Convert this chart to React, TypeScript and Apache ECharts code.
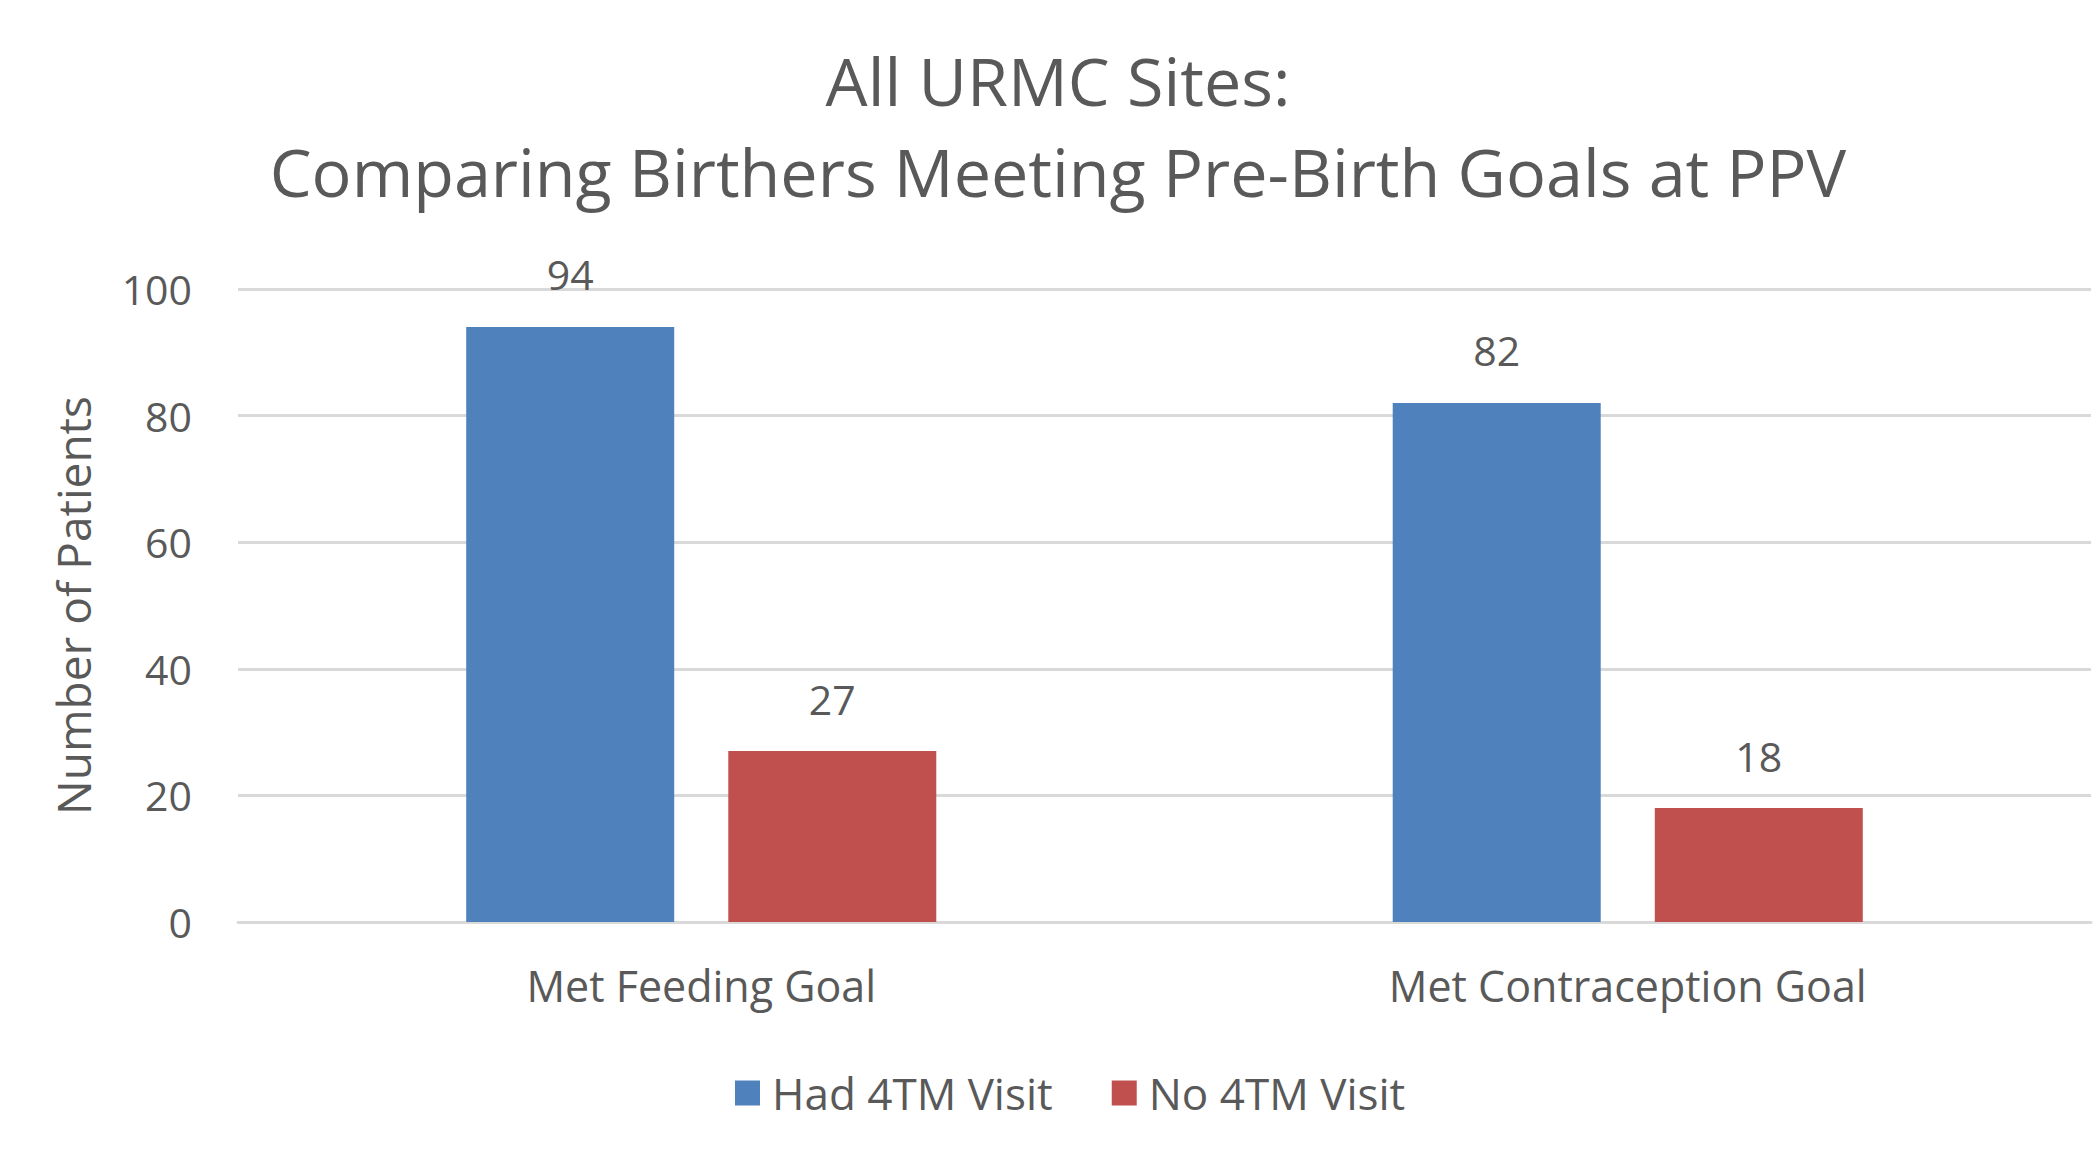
import React, { useEffect, useRef } from "react";
import * as echarts from "echarts";

const categories = ["Met Feeding Goal", "Met Contraception Goal"];
const seriesNames = ["Had 4TM Visit", "No 4TM Visit"];
const hadVisit = [94, 82];
const noVisit = [27, 18];
const titleLines = ["All URMC Sites:", "Comparing Birthers Meeting Pre-Birth Goals at PPV"];
const yAxisName = "Number of Patients";

const FONT = "'Open Sans', 'Noto Sans', sans-serif";
const TEXT = "#595959";
const GRID = "#D9D9D9";

export default function App() {
  const ref = useRef<HTMLDivElement>(null);
  useEffect(() => {
    if (!ref.current) return;
    const chart = echarts.init(ref.current, undefined, { renderer: "svg" });
    chart.setOption({
      animation: false,
      backgroundColor: "#ffffff",
      textStyle: { fontFamily: FONT, color: TEXT },
      title: {
        text: titleLines.join("\n"),
        left: 1058,
        top: 34,
        padding: 0,
        textAlign: "center",
        textStyle: {
          fontFamily: FONT,
          fontSize: 66.5,
          fontWeight: "normal",
          color: TEXT,
          lineHeight: 91,
        },
      },
      legend: {
        data: seriesNames,
        left: 735,
        top: 1068,
        padding: 0,
        itemWidth: 25,
        itemHeight: 25,
        itemGap: 59,
        icon: "rect",
        textStyle: {
          fontFamily: FONT,
          fontSize: 44,
          color: TEXT,
          lineHeight: 50,
          padding: [0, 0, 0, 7],
        },
      },
      grid: { left: 238, right: 4, top: 289, bottom: 227, containLabel: false },
      xAxis: {
        type: "category",
        data: categories,
        axisLine: { show: true, lineStyle: { color: GRID, width: 3 } },
        axisTick: { show: false },
        axisLabel: { fontFamily: FONT, fontSize: 43, color: TEXT, margin: 42 },
      },
      yAxis: {
        type: "value",
        min: 0,
        max: 100,
        interval: 20,
        name: yAxisName,
        nameLocation: "middle",
        nameRotate: 90,
        nameGap: 142,
        nameTextStyle: { fontFamily: FONT, fontSize: 46, color: TEXT },
        axisLine: { show: false },
        axisTick: { show: false },
        axisLabel: { fontFamily: FONT, fontSize: 41, color: TEXT, margin: 46 },
        splitLine: { show: true, lineStyle: { color: GRID, width: 3 } },
      },
      series: [
        {
          name: seriesNames[0],
          type: "bar",
          data: hadVisit,
          barWidth: 208,
          barGap: "26%",
          itemStyle: { color: "#4F81BD" },
          label: {
            show: true,
            position: "top",
            distance: 32,
            fontFamily: FONT,
            fontSize: 41,
            color: TEXT,
          },
        },
        {
          name: seriesNames[1],
          type: "bar",
          data: noVisit,
          barWidth: 208,
          barGap: "26%",
          itemStyle: { color: "#C0504D" },
          label: {
            show: true,
            position: "top",
            distance: 32,
            fontFamily: FONT,
            fontSize: 41,
            color: TEXT,
          },
        },
      ],
    });
    return () => chart.dispose();
  }, []);
  return (
    <div
      ref={ref}
      style={{ position: "fixed", left: 0, top: 0, width: 2095, height: 1149, background: "#fff" }}
    />
  );
}
